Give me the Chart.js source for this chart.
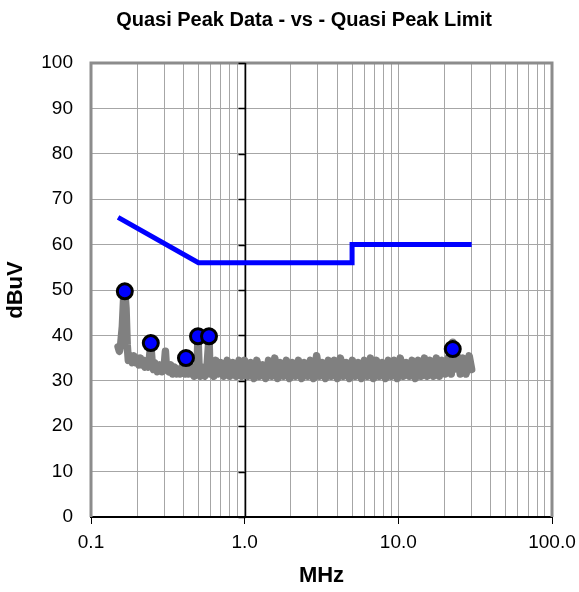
<!DOCTYPE html>
<html>
<head>
<meta charset="utf-8">
<script src="https://cdn.jsdelivr.net/npm/chart.js@4"></script>
<style>
  html, body { margin: 0; padding: 0; background: #fff; }
  #wrap { width: 579px; height: 592px; }
</style>
</head>
<body>
<div id="wrap"><canvas id="qpChart"></canvas></div>
<script>
// measured quasi peak trace (MHz, dBuV)
const traceFreq = [
  0.150, 0.153, 0.156, 0.160, 0.163, 0.166, 0.169, 0.172, 0.175, 0.180,
  0.185, 0.190, 0.195, 0.200, 0.205, 0.210, 0.215, 0.220, 0.225, 0.230,
  0.235, 0.240, 0.245, 0.250, 0.255, 0.260, 0.270, 0.280, 0.290, 0.300,
  0.305, 0.310, 0.320, 0.330, 0.340, 0.350, 0.360, 0.370, 0.380, 0.390,
  0.400, 0.410, 0.420, 0.430, 0.440, 0.450, 0.460, 0.470, 0.480, 0.490,
  0.497, 0.505, 0.515, 0.530, 0.550, 0.570, 0.586, 0.595, 0.610, 0.630,
  0.650, 0.670, 0.700, 0.730, 0.770, 0.800, 0.840, 0.880, 0.920, 0.960,
  1.00, 1.05, 1.10, 1.15, 1.20, 1.25, 1.31, 1.37, 1.43, 1.50,
  1.57, 1.64, 1.71, 1.79, 1.87, 1.96, 2.05, 2.14, 2.24, 2.35,
  2.45, 2.57, 2.68, 2.81, 2.94, 3.07, 3.21, 3.36, 3.51, 3.67,
  3.84, 4.02, 4.20, 4.40, 4.60, 4.81, 5.03, 5.26, 5.50, 5.76,
  6.02, 6.30, 6.59, 6.89, 7.21, 7.54, 7.88, 8.25, 8.62, 9.02,
  9.43, 9.87, 10.3, 10.8, 11.3, 11.8, 12.3, 12.9, 13.5, 14.1,
  14.8, 15.4, 16.1, 16.9, 17.7, 18.5, 19.3, 20.2, 21.1, 22.1,
  22.6, 23.1, 24.2, 25.3, 26.4, 27.6, 28.9, 30.0
];
const traceLevel = [
  37.5, 36.5, 38.0, 42.0, 48.0, 49.5, 46.0, 38.0, 34.5, 35.5,
  34.0, 35.5, 34.0, 35.0, 33.5, 35.0, 33.5, 34.5, 33.0, 34.0,
  33.0, 35.0, 38.0, 34.0, 32.5, 34.0, 32.0, 33.5, 32.0, 33.5,
  36.5, 32.5, 32.0, 33.5, 31.5, 33.0, 31.5, 32.5, 31.5, 33.0,
  33.0, 31.5, 34.0, 31.5, 33.5, 31.5, 33.0, 31.0, 32.5, 33.5,
  39.5, 33.0, 31.0, 33.0, 31.0, 33.5, 39.5, 31.5, 33.5, 31.0,
  34.5, 31.5, 34.0, 31.0, 34.5, 31.0, 34.0, 31.0, 34.5, 31.0,
  34.5, 31.0, 34.0, 30.5, 34.5, 31.0, 33.5, 30.5, 34.5, 31.0,
  35.0, 30.5, 34.0, 31.0, 34.5, 30.5, 34.0, 31.0, 34.5, 30.5,
  34.0, 31.0, 34.5, 30.5, 35.5, 31.0, 34.0, 30.5, 34.5, 31.0,
  34.5, 30.5, 35.0, 31.0, 34.0, 30.5, 34.5, 31.0, 34.0, 30.5,
  34.5, 31.0, 35.0, 30.5, 34.5, 31.0, 34.0, 30.5, 34.5, 31.0,
  34.5, 30.5, 35.0, 31.0, 34.0, 31.0, 34.5, 30.5, 34.5, 31.0,
  35.0, 31.0, 34.5, 31.0, 35.0, 31.0, 34.5, 31.5, 35.0, 31.5,
  38.5, 32.5, 35.5, 31.5, 35.0, 31.5, 35.5, 32.5
];

// quasi peak limit
const limitFreq = [0.15, 0.5, 5, 5, 30];
const limitLevel = [66, 56, 56, 60, 60];

// marked quasi peak readings
const peakFreq = [0.166, 0.245, 0.415, 0.497, 0.586, 22.6];
const peakLevel = [49.7, 38.3, 35.0, 39.8, 39.8, 37.0];

const decadeTicks = [0.1, 1, 10, 100];
const chartTitle = "Quasi Peak Data - vs - Quasi Peak Limit";
const fontFamily = "Liberation Sans, Arial, sans-serif";

const toXY = (xs, ys) => xs.map((x, i) => ({ x: x, y: ys[i] }));

// frame, x=1 axis line with its tick marks, and the title
const framePlugin = {
  id: "frame",
  beforeDatasetsDraw(chart) {
    const { ctx, chartArea: a, scales } = chart;
    ctx.save();
    ctx.strokeStyle = "#8c8c8c";
    ctx.lineWidth = 3;
    ctx.beginPath();
    ctx.moveTo(a.left, a.bottom);
    ctx.lineTo(a.left, a.top);
    ctx.lineTo(a.right, a.top);
    ctx.lineTo(a.right, a.bottom);
    ctx.stroke();

    const x1 = Math.round(scales.x.getPixelForValue(1)) + 0.5;
    ctx.strokeStyle = "#000";
    ctx.lineWidth = 1.5;
    ctx.beginPath();
    ctx.moveTo(x1, a.top);
    ctx.lineTo(x1, a.bottom);
    for (let v = 0; v <= 100; v += 10) {
      const y = Math.round(scales.y.getPixelForValue(v)) + 0.5;
      ctx.moveTo(x1 - 7, y);
      ctx.lineTo(x1, y);
    }
    ctx.stroke();
    ctx.restore();
  },
  afterDraw(chart) {
    const ctx = chart.ctx;
    ctx.save();
    ctx.fillStyle = "#000";
    ctx.font = "bold 20px " + fontFamily;
    ctx.textAlign = "center";
    ctx.textBaseline = "middle";
    ctx.fillText(chartTitle, 304, 20);
    ctx.restore();
  },
};

new Chart(document.getElementById("qpChart"), {
  type: "scatter",
  data: {
    datasets: [
      {
        label: "QP readings",
        data: toXY(peakFreq, peakLevel),
        pointRadius: 7.5,
        pointHoverRadius: 7.5,
        pointBackgroundColor: "#0000ff",
        pointBorderColor: "#000",
        pointBorderWidth: 3,
        showLine: false,
      },
      {
        label: "QP limit",
        data: toXY(limitFreq, limitLevel),
        showLine: true,
        borderColor: "#0000ff",
        borderWidth: 5,
        pointRadius: 0,
        tension: 0,
      },
      {
        label: "QP data",
        data: toXY(traceFreq, traceLevel),
        showLine: true,
        borderColor: "#808080",
        borderWidth: 7.5,
        borderJoinStyle: "round",
        borderCapStyle: "round",
        pointRadius: 0,
        tension: 0,
      },
    ],
  },
  options: {
    responsive: true,
    maintainAspectRatio: false,
    animation: false,
    layout: { padding: { left: 0, right: 27, top: 63, bottom: 0 } },
    plugins: {
      legend: { display: false },
      tooltip: { enabled: false },
      title: { display: false },
    },
    scales: {
      x: {
        type: "logarithmic",
        min: 0.1,
        max: 100,
        afterBuildTicks(scale) {
          const t = [];
          for (const d of [0.1, 1, 10]) {
            for (let k = 1; k <= 9; k++) t.push({ value: k * d });
          }
          t.push({ value: 100 });
          scale.ticks = t;
        },
        afterFit(scale) {
          scale.height = 75;
          scale.paddingLeft = 0;
          scale.paddingRight = 0;
        },
        border: { display: true, color: "#000", width: 2 },
        grid: {
          color: "#a6a6a6",
          lineWidth: 1,
          tickLength: 7,
          tickColor: (c) => (c.tick && decadeTicks.includes(c.tick.value) ? "#000" : "rgba(0,0,0,0)"),
        },
        ticks: {
          autoSkip: false,
          maxRotation: 0,
          padding: 7,
          color: "#000",
          font: { family: fontFamily, size: 19 },
          callback: (v) => (decadeTicks.includes(v) ? Number(v).toFixed(1) : ""),
        },
        title: {
          display: true,
          text: "MHz",
          color: "#000",
          font: { family: fontFamily, size: 22, weight: "bold" },
          padding: { top: 0, bottom: 3 },
        },
      },
      y: {
        min: 0,
        max: 100,
        afterFit(scale) {
          scale.width = 91;
          scale.paddingTop = 0;
          scale.paddingBottom = 0;
        },
        border: { display: false },
        grid: { color: "#a6a6a6", lineWidth: 1, drawTicks: false },
        ticks: {
          stepSize: 10,
          padding: 18,
          color: "#000",
          font: { family: fontFamily, size: 19 },
        },
        title: {
          display: true,
          text: "dBuV",
          color: "#000",
          font: { family: fontFamily, size: 22, weight: "bold" },
          padding: { top: 3, bottom: 0 },
        },
      },
    },
  },
  plugins: [framePlugin],
});
</script>
</body>
</html>
